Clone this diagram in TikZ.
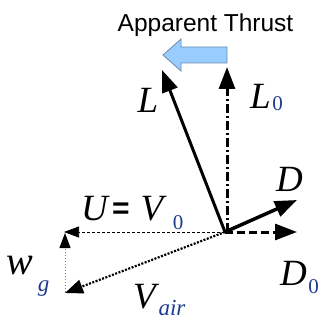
\documentclass[tikz,border=0pt]{standalone}
\usepackage{fontspec}
\setmainfont{Liberation Serif}
\newfontfamily\titlefont{Liberation Sans}
\usetikzlibrary{arrows.meta}
\definecolor{subcol}{RGB}{30,60,140}
\definecolor{thrustfill}{RGB}{153,204,255}
\definecolor{thrustdraw}{RGB}{110,140,175}
\begin{document}
\begin{tikzpicture}[x=1pt,y=-1pt,
  lab/.style={inner sep=0pt,font=\fontsize{37}{37}\selectfont\itshape},
  sub/.style={inner sep=0pt,text=subcol,font=\fontsize{21}{21}\selectfont},
  subit/.style={inner sep=0pt,text=subcol,font=\fontsize{23}{23}\selectfont\itshape},
  bigtip/.style={-{Triangle[length=22pt,width=16pt]}},
  midtip/.style={-{Triangle[length=18pt,width=14pt]}},
  smalltip/.style={-{Triangle[length=15pt,width=11pt,color=black]}}]
\useasboundingbox (0,0) rectangle (323,320);
% coordinates
\coordinate (O) at (225,232);
\coordinate (O2) at (227,232);
\coordinate (Ltip) at (162,70);
\coordinate (L0tip) at (227,67);
\coordinate (Dtip) at (297,200);
\coordinate (D0tip) at (297,232);
\coordinate (Utip) at (64,232);
\coordinate (Wbot) at (65,292);
\coordinate (Wtip) at (65,233);
\coordinate (Vtip) at (65,293);
% title
\node[inner sep=0pt,anchor=base,font=\titlefont\fontsize{24.5}{24.5}\selectfont] (title) at (205.5,32) {Apparent Thrust};
% apparent thrust block arrow
\draw[fill=thrustfill,draw=thrustdraw,line width=0.8pt] (227,47) -- (181,47) -- (181,39) -- (163,55) -- (181,71) -- (181,63) -- (227,63) -- cycle;
% thin vectors
\draw[smalltip,line width=0.7pt,dash pattern=on 3pt off 2pt] (O) -- (Utip);
\draw[smalltip,draw=gray,line width=1pt,dash pattern=on 1.5pt off 1.5pt] (Wbot) -- (Wtip);
\draw[midtip,line width=2.2pt,dash pattern=on 2pt off 1.5pt] (O) -- (Vtip);
% heavy vectors
\draw[bigtip,line width=3pt,dash pattern=on 9pt off 3pt on 2pt off 3pt] (O2) -- (L0tip);
\draw[bigtip,line width=3pt,dash pattern=on 8pt off 4pt] (O) -- (D0tip);
\draw[bigtip,line width=3pt] (O) -- (Ltip);
\draw[bigtip,line width=3.5pt] (O) -- (Dtip);
% labels
\node[lab] (Llab) at (148,100) {L};
\node[lab] (L0lab) at (260.5,96) {L};
\node[sub] (L0sub) at (277.5,104) {0};
\node[lab] (Dlab) at (289.5,179) {D};
\node[lab] (D0lab) at (293.5,273.5) {D};
\node[sub] (D0sub) at (313.5,286.5) {0};
\node[lab] (Ulab) at (94.5,208.5) {U};
\node[inner sep=0pt,font=\titlefont\bfseries\fontsize{30}{30}\selectfont] (eq) at (121,210.5) {=};
\node[lab] (V0lab) at (152,208.5) {V};
\node[sub] (V0sub) at (178,222.5) {0};
\node[lab,font=\fontsize{40}{40}\selectfont\itshape] (wlab) at (20,265.5) {w};
\node[subit] (gsub) at (43.5,288.5) {g};
\node[lab] (Vair) at (144.5,296.5) {V};
\node[subit] (airsub) at (172,308) {air};
\end{tikzpicture}
\end{document}
